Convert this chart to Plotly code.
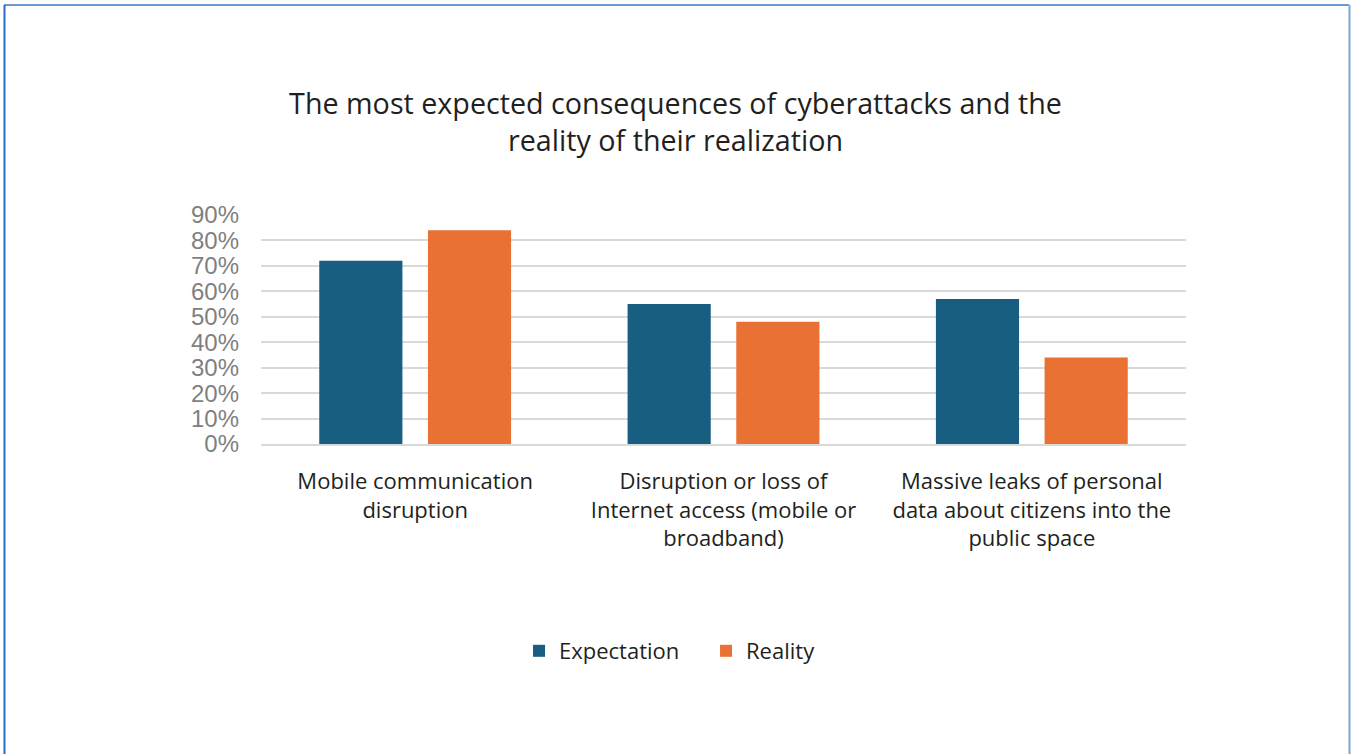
import plotly.graph_objects as go

categories = [
    "Mobile communication<br>disruption",
    "Disruption or loss of<br>Internet access (mobile or<br>broadband)",
    "Massive leaks of personal<br>data about citizens into the<br>public space",
]
expectation = [72, 55, 57]
reality = [84, 48, 34]
y_ticks = [0, 10, 20, 30, 40, 50, 60, 70, 80, 90]
y_tick_labels = [f"{v}%" for v in y_ticks]

BLUE = "#175E80"
ORANGE = "#EA7134"

fig = go.Figure()
fig.add_trace(go.Bar(name="Expectation", x=categories, y=expectation,
                     marker=dict(color=BLUE, line=dict(width=0))))
fig.add_trace(go.Bar(name="Reality", x=categories, y=reality,
                     marker=dict(color=ORANGE, line=dict(width=0))))

fig.update_layout(
    width=1351, height=754,
    margin=dict(l=261, r=165, t=215, b=310),
    paper_bgcolor="white", plot_bgcolor="white",
    barmode="group", bargap=0.295, bargroupgap=0.235,
    title=dict(
        text="The most expected consequences of cyberattacks and the<br>reality of their realization",
        x=0.5, xref="container", xanchor="center",
        y=1 - 114 / 754, yref="container", yanchor="middle",
        font=dict(family="Open Sans", size=28.7, color="#231F20"),
    ),
    legend=dict(
        orientation="h", xref="container", yref="container",
        x=0.5226, xanchor="center", y=1 - 651 / 754, yanchor="middle",
        font=dict(family="Open Sans", size=22, color="#231F20"),
        itemwidth=30, entrywidth=142,
    ),
    showlegend=True,
)

fig.update_yaxes(
    range=[0, 90], tickvals=y_ticks, ticktext=y_tick_labels,
    showgrid=True, gridcolor="#D9D9D9", gridwidth=1.5,
    zeroline=False, showline=False, ticks="",
    tickfont=dict(family="Liberation Sans", size=24, color="#7F7F7F"),
    ticklabelstandoff=21,
)
fig.update_xaxes(
    showline=True, linecolor="#D9D9D9", linewidth=1.5, ticks="",
    tickfont=dict(family="Open Sans", size=22, color="#231F20"),
    ticklabelstandoff=17,
)

# thin blue frame around the figure
fig.add_shape(type="line", xref="paper", yref="paper",
              x0=(4 - 261) / 925, x1=(1349 - 261) / 925,
              y0=(444 - 5) / 229, y1=(444 - 5) / 229,
              line=dict(color="#6A9ACF", width=2))
fig.add_shape(type="line", xref="paper", yref="paper",
              x0=(4.5 - 261) / 925, x1=(4.5 - 261) / 925,
              y0=(444 - 5) / 229, y1=(444 - 760) / 229,
              line=dict(color="#2A6BC4", width=2))
fig.add_shape(type="line", xref="paper", yref="paper",
              x0=(1349.5 - 261) / 925, x1=(1349.5 - 261) / 925,
              y0=(444 - 5) / 229, y1=(444 - 760) / 229,
              line=dict(color="#7AA7D8", width=2))

fig.write_html("out.html")
